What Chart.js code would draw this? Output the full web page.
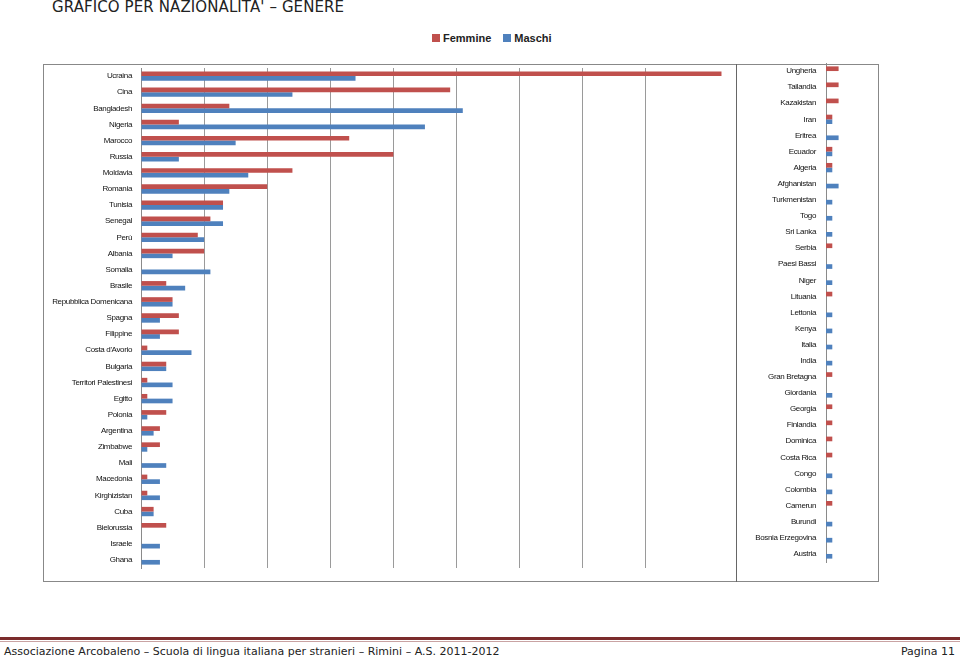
<!DOCTYPE html>
<html>
<head>
<meta charset="utf-8">
<script src="https://cdn.jsdelivr.net/npm/chart.js@4.4.1/dist/chart.umd.min.js"></script>
<style>
  body { margin: 0; width: 960px; height: 661px; background: #fff; position: relative; overflow: hidden; }
  #title { position: absolute; left: 52px; top: -2px; font-family: "DejaVu Sans", sans-serif; font-size: 15px; color: #222; letter-spacing: 0.1px; }
  #legend { position: absolute; left: 432px; top: 32px; font-family: "Liberation Sans", sans-serif; font-size: 11px; font-weight: bold; color: #222; }
  #legend span.sw { display: inline-block; width: 8px; height: 8px; margin-right: 3px; }
  #legend span.it { margin-right: 12px; }
  #box { position: absolute; left: 43px; top: 64px; width: 834px; height: 516px; border: 1px solid #888; }
  #sep { position: absolute; left: 736px; top: 64px; width: 1px; height: 518px; background: #666; }
  #wrapA { position: absolute; left: 44px; top: 65px; width: 692px; height: 514px; }
  #wrapB { position: absolute; left: 737px; top: 63px; width: 140px; height: 516px; }
  #rule1 { position: absolute; left: 0; top: 637px; width: 960px; height: 3px; background: #7b2c2c; }
  #rule2 { position: absolute; left: 0; top: 641px; width: 960px; height: 1px; background: #c9a3a3; }
  #foot { position: absolute; left: 4px; top: 645px; font-family: "DejaVu Sans", sans-serif; font-size: 11px; color: #222; }
  #page { position: absolute; right: 5px; top: 645px; font-family: "DejaVu Sans", sans-serif; font-size: 11px; color: #222; }
</style>
</head>
<body>
<div id="title">GRAFICO PER NAZIONALITA' – GENERE</div>
<div id="legend"><span class="sw" style="background:#C0504D"></span><span class="it">Femmine</span><span class="sw" style="background:#4F81BD"></span><span>Maschi</span></div>
<div id="box"></div>
<div id="wrapA"><canvas id="chartA"></canvas></div>
<div id="wrapB"><canvas id="chartB"></canvas></div>
<div id="sep"></div>
<div id="rule1"></div>
<div id="rule2"></div>
<div id="foot">Associazione Arcobaleno – Scuola di lingua italiana per stranieri – Rimini – A.S. 2011-2012</div>
<div id="page">Pagina 11</div>
<script>
const countriesA = ['Ucraina', 'Cina', 'Bangladesh', 'Nigeria', 'Marocco', 'Russia', 'Moldavia', 'Romania', 'Tunisia', 'Senegal', 'Perù', 'Albania', 'Somalia', 'Brasile', 'Repubblica Domenicana', 'Spagna', 'Filippine', "Costa d'Avorio", 'Bulgaria', 'Territori Palestinesi', 'Egitto', 'Polonia', 'Argentina', 'Zimbabwe', 'Mali', 'Macedonia', 'Kirghizistan', 'Cuba', 'Bielorussia', 'Israele', 'Ghana'];
const femmineA = [92, 49, 14, 6, 33, 40, 24, 20, 13, 11, 9, 10, 0, 4, 5, 6, 6, 1, 4, 1, 1, 4, 3, 3, 0, 1, 1, 2, 4, 0, 0];
const maschiA = [34, 24, 51, 45, 15, 6, 17, 14, 13, 13, 10, 5, 11, 7, 5, 3, 3, 8, 4, 5, 5, 1, 2, 1, 4, 3, 3, 2, 0, 3, 3];

const countriesB = ['Ungheria', 'Tailandia', 'Kazakistan', 'Iran', 'Eritrea', 'Ecuador', 'Algeria', 'Afghanistan', 'Turkmenistan', 'Togo', 'Sri Lanka', 'Serbia', 'Paesi Bassi', 'Niger', 'Lituania', 'Lettonia', 'Kenya', 'Italia', 'India', 'Gran Bretagna', 'Giordania', 'Georgia', 'Finlandia', 'Dominica', 'Costa Rica', 'Congo', 'Colombia', 'Camerun', 'Burundi', 'Bosnia Erzegovina', 'Austria'];
const femmineB = [2, 2, 2, 1, 0, 1, 1, 0, 0, 0, 0, 1, 0, 0, 1, 0, 0, 0, 0, 1, 0, 1, 1, 1, 1, 0, 0, 1, 0, 0, 0];
const maschiB = [0, 0, 0, 1, 2, 1, 1, 2, 1, 1, 1, 0, 1, 1, 0, 1, 1, 1, 1, 0, 1, 0, 0, 0, 0, 1, 1, 0, 1, 1, 1];

const RED = '#C0504D';
const BLUE = '#4F81BD';
const labelFont = { family: '"Liberation Sans", Arial, sans-serif', size: 8, weight: 'normal' };

// tighter letters so the long country names fit like the narrow original font
const tightText = {
  id: 'tightText',
  beforeLayout: chart => { chart.ctx.letterSpacing = '-0.35px'; },
  beforeDraw: chart => { chart.ctx.letterSpacing = '-0.35px'; }
};

function makeChart(id, labels, fem, mas, opts) {
  return new Chart(document.getElementById(id), {
    type: 'bar',
    data: {
      labels: labels,
      datasets: [
        { label: 'Femmine', data: fem, backgroundColor: RED, borderWidth: 0, categoryPercentage: 0.58, barPercentage: 1 },
        { label: 'Maschi', data: mas, backgroundColor: BLUE, borderWidth: 0, categoryPercentage: 0.58, barPercentage: 1 }
      ]
    },
    plugins: [tightText],
    options: {
      indexAxis: 'y',
      responsive: true,
      maintainAspectRatio: false,
      animation: false,
      layout: { padding: opts.padding },
      plugins: { legend: { display: false }, tooltip: { enabled: false } },
      scales: {
        x: {
          min: 0,
          max: opts.max,
          ticks: { display: false, stepSize: 10 },
          grid: { display: opts.grid, color: '#9a9a9a', drawTicks: false },
          border: { display: false }
        },
        y: {
          // fixed label column, and no extra room above / below the categories
          afterFit: s => { s.width = opts.yWidth; s.paddingTop = 0; s.paddingBottom = 0; },
          ticks: { color: '#111', font: labelFont, padding: opts.tickPad, autoSkip: false },
          grid: { display: false, drawTicks: false },
          border: { display: true, color: '#8a8a8a' }
        }
      }
    }
  });
}

makeChart('chartA', countriesA, femmineA, maschiA, { max: 94.3, grid: true, yWidth: 97, tickPad: 9, padding: { top: 3, bottom: 11, left: 0, right: 0 } });
makeChart('chartB', countriesB, femmineB, maschiB, { max: 8.1, grid: false, yWidth: 89, tickPad: 10, padding: { top: 0, bottom: 17, left: 0, right: 0 } });
</script>
</body>
</html>
